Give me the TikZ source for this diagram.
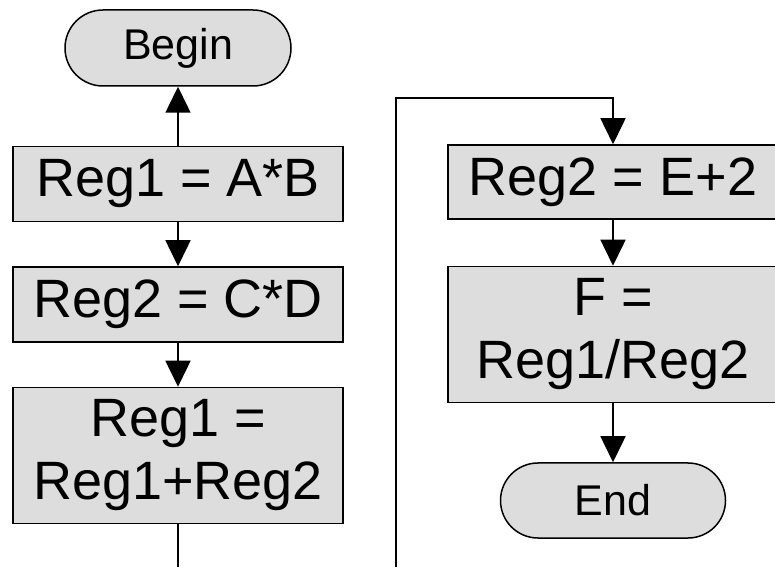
\documentclass[tikz,border=0pt]{standalone}
\usepackage{fontspec}
\setmainfont{Liberation Sans}
\usetikzlibrary{positioning, shapes.misc, arrows.meta}
\definecolor{boxgray}{HTML}{DDDDDD}

\begin{document}
\begin{tikzpicture}[x=1pt, y=1pt, node distance=44pt,
    block/.style={rectangle, draw, line width=1.5pt, fill=boxgray, inner sep=0pt,
        minimum width=330pt, minimum height=75pt, align=center,
        font=\fontsize{54}{63}\selectfont},
    term/.style={rounded rectangle, draw, line width=1.5pt, fill=boxgray, inner sep=0pt,
        minimum width=226pt, minimum height=76pt, font=\fontsize{43}{49}\selectfont},
    arr/.style={-{Triangle[length=26pt, width=25pt]}, line width=1.5pt},
    wire/.style={line width=1.5pt}]
    \useasboundingbox (0,0) rectangle (775,567);

    % first part
    \node [term] (begin) at (178,519) {Begin};
    \node [block, below=59pt of begin] (r1) {Reg1 = A*B};
    \node [block, below=of r1] (r2) {Reg2 = C*D};
    \node [block, minimum height=136pt, below=of r2] (r3) {Reg1 =\\Reg1+Reg2};

    % second part
    \node [block, minimum height=74pt] (r4) at (613,385) {Reg2 = E+2};
    \node [block, minimum height=136pt, below=46pt of r4] (r5) {F =\\Reg1/Reg2};
    \node [term, minimum width=225pt, minimum height=75pt, below=59pt of r5] (fin) {End};

    \coordinate (lend) at (178,0);
    \coordinate (rstart) at (396,0);
    \coordinate (rtop) at (396,469);

    \draw [arr] (r1) -- (begin);
    \draw [arr] (r1) -- (r2);
    \draw [arr] (r2) -- (r3);
    \draw [wire] (r3) -- (lend);
    \draw [arr] (rstart) -- (rtop) -| (r4);
    \draw [arr] (r4) -- (r5);
    \draw [arr] (r5) -- (fin);
\end{tikzpicture}
\end{document}
